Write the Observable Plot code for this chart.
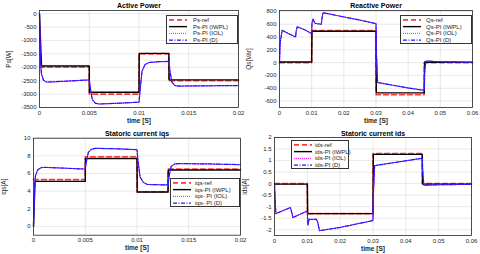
<!DOCTYPE html>
<html><head><meta charset="utf-8">
<script src="https://cdn.jsdelivr.net/npm/d3@7"></script>
<script src="https://cdn.jsdelivr.net/npm/@observablehq/plot@0.6"></script>
<style>
html,body{margin:0;padding:0;background:#fff;}
#fig{position:relative;width:480px;height:254px;overflow:hidden;background:#fff;font-family:'Liberation Sans',Arial,sans-serif;}
.pan{position:absolute;}
.pan svg{overflow:visible;}
.leg{position:absolute;background:#fff;border:0.8px solid #333;box-sizing:border-box;}
</style>
</head><body><div id="fig"></div>
<script>
// ---------- Active Power ----------
const psTicksX = [0, 0.005, 0.01, 0.015, 0.02];
const psTicksY = [0, -500, -1000, -1500, -2000, -2500, -3000, -3500];
const psLegend = ["Ps-ref", "Ps-PI (IWPL)", "Ps-PI (IOL)", "Ps-PI (D)"];
const psRefT = [0, 0.005, 0.005, 0.01, 0.01, 0.013, 0.013, 0.02];
const psRef  = [-2000, -2000, -3000, -3000, -1500, -1500, -2500, -2500];
const psIwplT = [0, 0.0002, 0.005, 0.00502, 0.01, 0.01002, 0.013, 0.01302, 0.02];
const psIwpl  = [0, -1950, -1950, -2930, -2930, -1480, -1480, -2470, -2470];
const psDT = [0, 0.0001, 0.0002, 0.0004, 0.0007, 0.0015, 0.003, 0.005, 0.0051, 0.0053, 0.0056, 0.006, 0.008, 0.01, 0.0101, 0.0103, 0.0106, 0.011, 0.012, 0.013, 0.0131, 0.0133, 0.0136, 0.014, 0.017, 0.02];
const psIol = [0, -1800, -2250, -2480, -2550, -2540, -2510, -2470, -2750, -3200, -3340, -3370, -3340, -3300, -2900, -2150, -1900, -1820, -1790, -1780, -2100, -2550, -2680, -2700, -2690, -2680];
const psD   = [0, -1800, -2250, -2480, -2550, -2540, -2510, -2470, -2750, -3200, -3340, -3370, -3340, -3300, -2900, -2150, -1900, -1820, -1790, -1780, -2100, -2550, -2680, -2700, -2690, -2680];

// ---------- Reactive Power ----------
const qsTicksX = [0, 0.01, 0.02, 0.03, 0.04, 0.05, 0.06];
const qsTicksY = [800, 600, 400, 200, 0, -200, -400, -600];
const qsLegend = ["Qs-ref", "Qs-PI (IWPL)", "Qs-PI (IOL)", "Qs-PI (D)"];
const qsRefT = [0, 0.01, 0.01, 0.03, 0.03, 0.045, 0.045, 0.06];
const qsRef  = [0, 0, 500, 500, -500, -500, 0, 0];
const qsIwplT = [0, 0.0001, 0.01, 0.0101, 0.03, 0.0301, 0.045, 0.0451, 0.06];
const qsIwpl  = [0, 10, 10, 490, 490, -472, -472, 10, 5];
const qsDT = [0, 0.0002, 0.0008, 0.003, 0.005, 0.0052, 0.0055, 0.008, 0.01, 0.0101, 0.0104, 0.011, 0.013, 0.0132, 0.0135, 0.02, 0.025, 0.03, 0.0301, 0.0305, 0.035, 0.04, 0.045, 0.0451, 0.0455, 0.05, 0.06];
const qsIol = [0, 300, 505, 450, 400, 500, 560, 510, 455, 620, 680, 615, 600, 690, 780, 715, 665, 610, 200, -310, -350, -395, -432, -150, 25, 15, 8];
const qsD   = [0, 300, 505, 450, 400, 500, 560, 510, 455, 620, 680, 615, 600, 690, 780, 715, 665, 610, 200, -310, -350, -395, -432, -150, 25, 15, 8];

// ---------- Statoric current iqs ----------
const iqTicksX = [0, 0.005, 0.01, 0.015, 0.02];
const iqTicksY = [10, 8, 6, 4, 2, 0];
const iqLegend = ["iqs-ref", "iqs-PI (IWPL)", "iqs- PI (IOL)", "iqs- PI (D)"];
const iqRefT = [0, 0.005, 0.005, 0.01, 0.01, 0.013, 0.013, 0.02];
const iqRef  = [5.3, 5.3, 7.9, 7.9, 3.9, 3.9, 6.5, 6.5];
const iqIwplT = [0, 0.00015, 0.005, 0.00502, 0.01, 0.01002, 0.013, 0.01302, 0.02];
const iqIwpl  = [0, 5.1, 5.1, 7.7, 7.7, 3.9, 3.9, 6.4, 6.4];
const iqDT = [0, 0.0001, 0.0002, 0.0004, 0.0007, 0.001, 0.003, 0.005, 0.0051, 0.0053, 0.0056, 0.006, 0.008, 0.01, 0.0101, 0.0103, 0.0106, 0.011, 0.013, 0.0131, 0.0133, 0.0136, 0.014, 0.017, 0.02];
const iqIol = [0, 4.5, 5.8, 6.4, 6.65, 6.7, 6.6, 6.5, 7.3, 8.4, 8.75, 8.85, 8.8, 8.7, 7.4, 5.6, 5.0, 4.75, 4.7, 5.7, 6.8, 7.05, 7.12, 7.08, 7.0];
const iqD   = [0, 4.5, 5.8, 6.4, 6.65, 6.7, 6.6, 6.5, 7.3, 8.4, 8.75, 8.85, 8.8, 8.7, 7.4, 5.6, 5.0, 4.75, 4.7, 5.7, 6.8, 7.05, 7.12, 7.08, 7.0];

// ---------- Statoric current ids ----------
const idTicksX = [0, 0.01, 0.02, 0.03, 0.04, 0.05, 0.06];
const idTicksY = [2, 1.5, 1, 0.5, 0, -0.5, -1, -1.5, -2];
const idLegend = ["ids-ref", "ids-PI (IWPL)", "ids-PI (IOL)", "ids-PI (D)"];
const idRefT = [0, 0.01, 0.01, 0.03, 0.03, 0.045, 0.045, 0.06];
const idRef  = [0, 0, -1.3, -1.3, 1.3, 1.3, 0, 0];
const idIwplT = [0, 0.01, 0.0101, 0.03, 0.0301, 0.045, 0.0451, 0.06];
const idIwpl  = [-0.02, -0.02, -1.3, -1.3, 1.27, 1.27, -0.02, -0.02];
const idDT = [0, 0.0004, 0.0048, 0.005, 0.0056, 0.0098, 0.01, 0.0102, 0.0105, 0.0128, 0.0132, 0.0137, 0.02, 0.025, 0.03, 0.0301, 0.0305, 0.035, 0.04, 0.045, 0.0451, 0.0455, 0.05, 0.06];
const idIol = [0, -1.3, -1.04, -1.1, -1.47, -1.2, -1.25, -1.8, -1.55, -1.55, -1.7, -2.04, -1.9, -1.75, -1.6, -0.5, 0.78, 0.88, 0.99, 1.1, 0.6, -0.07, -0.05, -0.03];
const idD   = [0, -1.3, -1.04, -1.1, -1.47, -1.2, -1.25, -1.8, -1.55, -1.55, -1.7, -2.04, -1.9, -1.75, -1.6, -0.5, 0.78, 0.88, 0.99, 1.1, 0.6, -0.07, -0.05, -0.03];

const FONT = "'Liberation Sans', Arial, sans-serif";
const STYLES = [
  {stroke: "#ff3b3b", strokeWidth: 1.6, strokeDasharray: "5,3"},
  {stroke: "#000000", strokeWidth: 1.4},
  {stroke: "#ff00ff", strokeWidth: 1, strokeDasharray: "1,1"},
  {stroke: "#1a1aff", strokeWidth: 1.2, strokeDasharray: "4,1.5,1,1.5"}
];

function pts(t, v) { return t.map((x, i) => ({x, y: v[i]})); }

function panel(cfg) {
  const fig = document.getElementById("fig");
  const lines = cfg.series.map((s, k) => Plot.line(pts(s[0], s[1]), {x: "x", y: "y", ...STYLES[k]}));
  const svg = Plot.plot({
    width: cfg.width, height: 127,
    marginLeft: cfg.ml, marginRight: cfg.mr, marginTop: cfg.mt, marginBottom: cfg.mb,
    style: {fontFamily: FONT, fontSize: "6px", background: "transparent", color: "#262626", overflow: "visible"},
    x: {domain: cfg.xDomain, ticks: cfg.xTicks, tickFormat: d => String(d), tickSize: 0, tickPadding: 3, grid: true, label: null},
    y: {domain: cfg.yDomain, ticks: cfg.yTicks, tickFormat: d => String(d), tickSize: 0, tickPadding: 3, grid: true, label: null},
    marks: [
      ...lines,
      Plot.frame({stroke: "#262626", strokeWidth: 0.8}),
      Plot.text([cfg.title], {frameAnchor: "top", lineAnchor: "middle", dy: cfg.titleDy, fontWeight: "bold", fontSize: 7, fill: "#000"}),
      Plot.text(["time [S]"], {frameAnchor: "bottom", lineAnchor: "middle", dy: 13, fontWeight: "bold", fontSize: 6.5, fill: "#222"}),
      Plot.text([cfg.ylabel], {frameAnchor: "left", textAnchor: "middle", lineAnchor: "middle", dx: cfg.yLabelDx, rotate: -90, fontSize: 6.5, fill: "#222"})
    ]
  });
  const div = document.createElement("div");
  div.className = "pan";
  div.style.left = cfg.left + "px";
  div.style.top = cfg.top + "px";
  div.appendChild(svg);
  fig.appendChild(div);

  const lg = document.createElement("div");
  lg.className = "leg";
  lg.style.left = cfg.leg[0] + "px";
  lg.style.top = cfg.leg[1] + "px";
  lg.style.width = cfg.leg[2] + "px";
  lg.style.height = cfg.leg[3] + "px";
  const w = cfg.leg[2], h = cfg.leg[3];
  const row = (h - 2) / 4;
  let s = `<svg width="${w}" height="${h}" style="position:absolute;left:-1px;top:-1px;overflow:visible">`;
  cfg.legend.forEach((name, k) => {
    const y = 1.5 + row * (k + 0.5);
    const st = STYLES[k];
    s += `<line x1="3" x2="21" y1="${y}" y2="${y}" stroke="${st.stroke}" stroke-width="${st.strokeWidth}" ${st.strokeDasharray ? `stroke-dasharray="${st.strokeDasharray}"` : ""}/>`;
    s += `<text x="${cfg.legTextX}" y="${y}" dy="0.35em" font-size="6" font-family="${FONT.replace(/'/g, "")}" fill="#222">${name}</text>`;
  });
  s += "</svg>";
  lg.innerHTML = s;
  fig.appendChild(lg);
}

panel({left: 0, top: 0, width: 250, ml: 39, mr: 12, mt: 10, mb: 20,
  xDomain: [0, 0.02], xTicks: psTicksX, yDomain: [-3500, 120], yTicks: psTicksY,
  title: "Active Power", titleDy: -4.5, ylabel: "Ps[W]", yLabelDx: -31,
  series: [[psRefT, psRef], [psIwplT, psIwpl], [psDT, psIol], [psDT, psD]],
  legend: psLegend, leg: [166, 15, 72, 29], legTextX: 27});

panel({left: 240, top: 0, width: 240, ml: 39, mr: 8, mt: 10, mb: 20,
  xDomain: [0, 0.06], xTicks: qsTicksX, yDomain: [-700, 815], yTicks: qsTicksY,
  title: "Reactive Power", titleDy: -4.5, ylabel: "Qs[Var]", yLabelDx: -31,
  series: [[qsRefT, qsRef], [qsIwplT, qsIwpl], [qsDT, qsIol], [qsDT, qsD]],
  legend: qsLegend, leg: [400, 15, 72, 29], legTextX: 26});

panel({left: 0, top: 127, width: 250, ml: 33, mr: 10, mt: 10.7, mb: 19.3,
  xDomain: [0, 0.02], xTicks: iqTicksX, yDomain: [-1, 10], yTicks: iqTicksY,
  title: "Statoric current iqs", titleDy: -4.7, ylabel: "iqs[A]", yLabelDx: -30,
  series: [[iqRefT, iqRef], [iqIwplT, iqIwpl], [iqDT, iqIol], [iqDT, iqD]],
  legend: iqLegend, leg: [170, 178, 70, 29], legTextX: 25});

panel({left: 240, top: 127, width: 240, ml: 34, mr: 9, mt: 10, mb: 19,
  xDomain: [0, 0.06], xTicks: idTicksX, yDomain: [-2.25, 2], yTicks: idTicksY,
  title: "Statoric current ids", titleDy: -4, ylabel: "ids[A]", yLabelDx: -30,
  series: [[idRefT, idRef], [idIwplT, idIwpl], [idDT, idIol], [idDT, idD]],
  legend: idLegend, leg: [291, 140, 58, 29], legTextX: 24});
</script>
</body></html>
